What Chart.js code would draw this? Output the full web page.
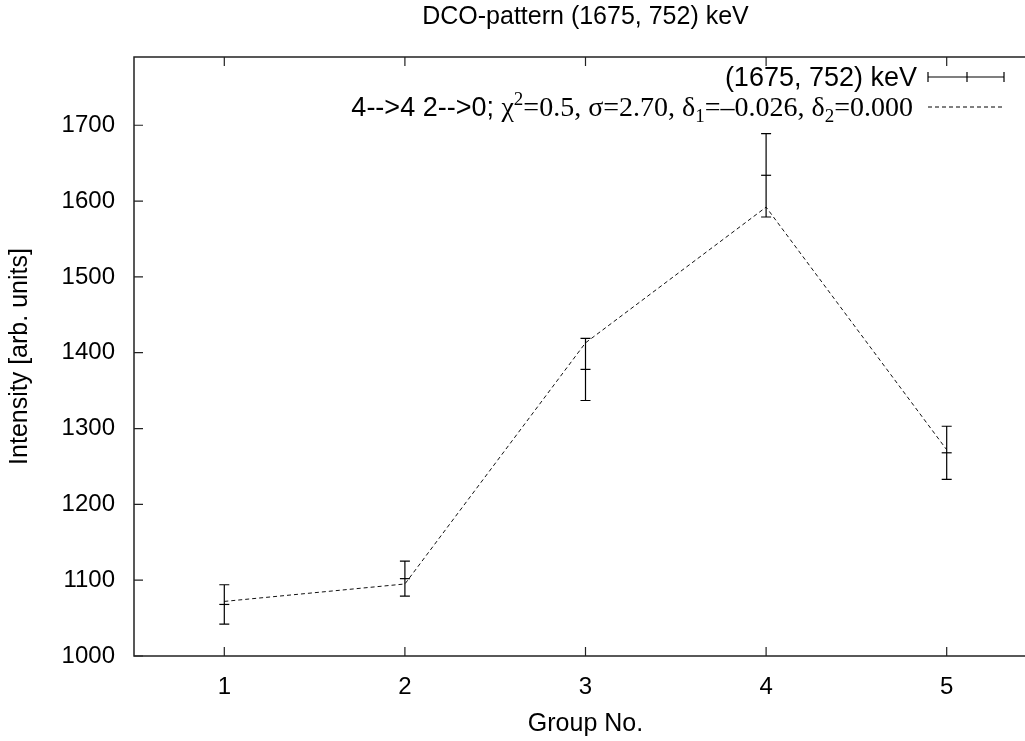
<!DOCTYPE html>
<html>
<head>
<meta charset="utf-8">
<script src="https://cdn.jsdelivr.net/npm/chart.js@4.4.1/dist/chart.umd.min.js"></script>
<style>
  html, body { margin: 0; padding: 0; background: #fff; overflow: hidden; }
  #wrap { position: relative; width: 1045px; height: 741px; }
</style>
</head>
<body>
<div id="wrap"><canvas id="c"></canvas></div>
<script>
// Measured intensities per detector group, with symmetric uncertainties
const groups = [1, 2, 3, 4, 5];
const intensity = [1068, 1102, 1378, 1634, 1268];
const intensityErr = [26, 23, 41, 55, 35];
// Calculated DCO pattern for the 4-->4 2-->0 cascade
const fitValues = [1072, 1095, 1413, 1592, 1272];
const yTickValues = [1000, 1100, 1200, 1300, 1400, 1500, 1600, 1700];
const xTickValues = [1, 2, 3, 4, 5];

const SANS = '"Liberation Sans", Arial, sans-serif';
const SERIF = '"Liberation Serif", "Times New Roman", serif';
const INK = '#000';

// Error bars, inward ticks, frame, title and legend
const decorations = {
  id: 'decorations',
  afterDatasetsDraw(chart) {
    const ctx = chart.ctx;
    const xs = chart.scales.x, ys = chart.scales.y;
    const a = chart.chartArea;
    ctx.save();

    // error bars
    ctx.strokeStyle = INK;
    ctx.lineWidth = 1.2;
    groups.forEach((g, i) => {
      const px = xs.getPixelForValue(g);
      const top = ys.getPixelForValue(intensity[i] + intensityErr[i]);
      const bot = ys.getPixelForValue(intensity[i] - intensityErr[i]);
      ctx.beginPath();
      ctx.moveTo(px, top); ctx.lineTo(px, bot);
      ctx.moveTo(px - 5, top); ctx.lineTo(px + 5, top);
      ctx.moveTo(px - 5, bot); ctx.lineTo(px + 5, bot);
      ctx.stroke();
    });

    // frame
    ctx.strokeStyle = '#222';
    ctx.lineWidth = 1.5;
    ctx.strokeRect(a.left, a.top, a.right - a.left, a.bottom - a.top);

    // inward ticks (mirrored on top and right)
    ctx.lineWidth = 1.2;
    ctx.beginPath();
    yTickValues.forEach(v => {
      const py = ys.getPixelForValue(v);
      ctx.moveTo(a.left, py); ctx.lineTo(a.left + 9, py);
      ctx.moveTo(a.right, py); ctx.lineTo(a.right - 9, py);
    });
    xTickValues.forEach(v => {
      const px = xs.getPixelForValue(v);
      ctx.moveTo(px, a.bottom); ctx.lineTo(px, a.bottom - 9);
      ctx.moveTo(px, a.top); ctx.lineTo(px, a.top + 9);
    });
    ctx.stroke();

    // title, centred over the plot area
    ctx.fillStyle = INK;
    ctx.font = '25px ' + SANS;
    ctx.textAlign = 'center';
    ctx.textBaseline = 'alphabetic';
    ctx.fillText('DCO-pattern (1675, 752) keV', (a.left + a.right) / 2, 24);

    // legend entry 1: data with error bars
    const keyL = 928, keyR = 1004;
    ctx.font = '27px ' + SANS;
    ctx.textAlign = 'right';
    ctx.fillText('(1675, 752) keV', 917, 86);
    ctx.lineWidth = 1.2;
    ctx.strokeStyle = INK;
    ctx.beginPath();
    ctx.moveTo(keyL, 77); ctx.lineTo(keyR, 77);
    ctx.moveTo(keyL, 72); ctx.lineTo(keyL, 82);
    ctx.moveTo(keyR, 72); ctx.lineTo(keyR, 82);
    ctx.moveTo(967, 72); ctx.lineTo(967, 82);
    ctx.stroke();

    // legend entry 2: fit description with mixed fonts
    const parts = [
      { t: '4-->4 2-->0; ', f: '27px ' + SANS, dy: 0 },
      { t: '\u03c7', f: '28px ' + SERIF, dy: 0 },
      { t: '2', f: '19px ' + SERIF, dy: -11 },
      { t: '=0.5, \u03c3=2.70, \u03b4', f: '28px ' + SERIF, dy: 0 },
      { t: '1', f: '19px ' + SERIF, dy: 6 },
      { t: '=\u20130.026, \u03b4', f: '28px ' + SERIF, dy: 0 },
      { t: '2', f: '19px ' + SERIF, dy: 6 },
      { t: '=0.000', f: '28px ' + SERIF, dy: 0 }
    ];
    let total = 0;
    parts.forEach(p => { ctx.font = p.f; p.w = ctx.measureText(p.t).width; total += p.w; });
    let x = 913 - total;
    ctx.textAlign = 'left';
    parts.forEach(p => { ctx.font = p.f; ctx.fillText(p.t, x, 116 + p.dy); x += p.w; });
    ctx.setLineDash([4, 3]);
    ctx.lineWidth = 1;
    ctx.beginPath();
    ctx.moveTo(keyL, 107); ctx.lineTo(keyR, 107);
    ctx.stroke();
    ctx.restore();
  }
};

new Chart(document.getElementById('c'), {
  type: 'line',
  data: {
    datasets: [
      {
        label: '(1675, 752) keV',
        data: groups.map((g, i) => ({ x: g, y: intensity[i] })),
        showLine: false,
        pointStyle: 'line',
        pointRadius: 5,
        pointBorderWidth: 1.2,
        borderColor: INK,
        backgroundColor: INK
      },
      {
        label: 'fit',
        data: groups.map((g, i) => ({ x: g, y: fitValues[i] })),
        borderColor: '#111',
        borderWidth: 1,
        borderDash: [4, 3],
        pointRadius: 0,
        fill: false,
        tension: 0
      }
    ]
  },
  options: {
    responsive: true,
    maintainAspectRatio: false,
    animation: false,
    layout: { padding: { top: 57, right: 8, left: 0, bottom: 0 } },
    plugins: { legend: { display: false }, title: { display: false }, tooltip: { enabled: false } },
    scales: {
      x: {
        type: 'linear',
        min: 0.5,
        max: 5.5,
        afterBuildTicks: s => { s.ticks = xTickValues.map(v => ({ value: v })); },
        afterFit: s => { s.height = 85; },
        grid: { display: false, drawTicks: false },
        border: { display: false },
        ticks: { color: INK, font: { family: SANS, size: 24 }, padding: 17, maxRotation: 0, callback: v => String(v) },
        title: { display: true, text: 'Group No.', color: INK, font: { family: SANS, size: 25 }, padding: { top: 0, bottom: 2 } }
      },
      y: {
        min: 1000,
        max: 1790,
        afterBuildTicks: s => { s.ticks = yTickValues.map(v => ({ value: v })); },
        afterFit: s => { s.width = 134; },
        grid: { display: false, drawTicks: false },
        border: { display: false },
        ticks: { color: INK, font: { family: SANS, size: 24 }, padding: 19, callback: v => String(v) },
        title: { display: true, text: 'Intensity [arb. units]', color: INK, font: { family: SANS, size: 25 }, padding: { top: 5, bottom: 0 } }
      }
    }
  },
  plugins: [decorations]
});
</script>
</body>
</html>
